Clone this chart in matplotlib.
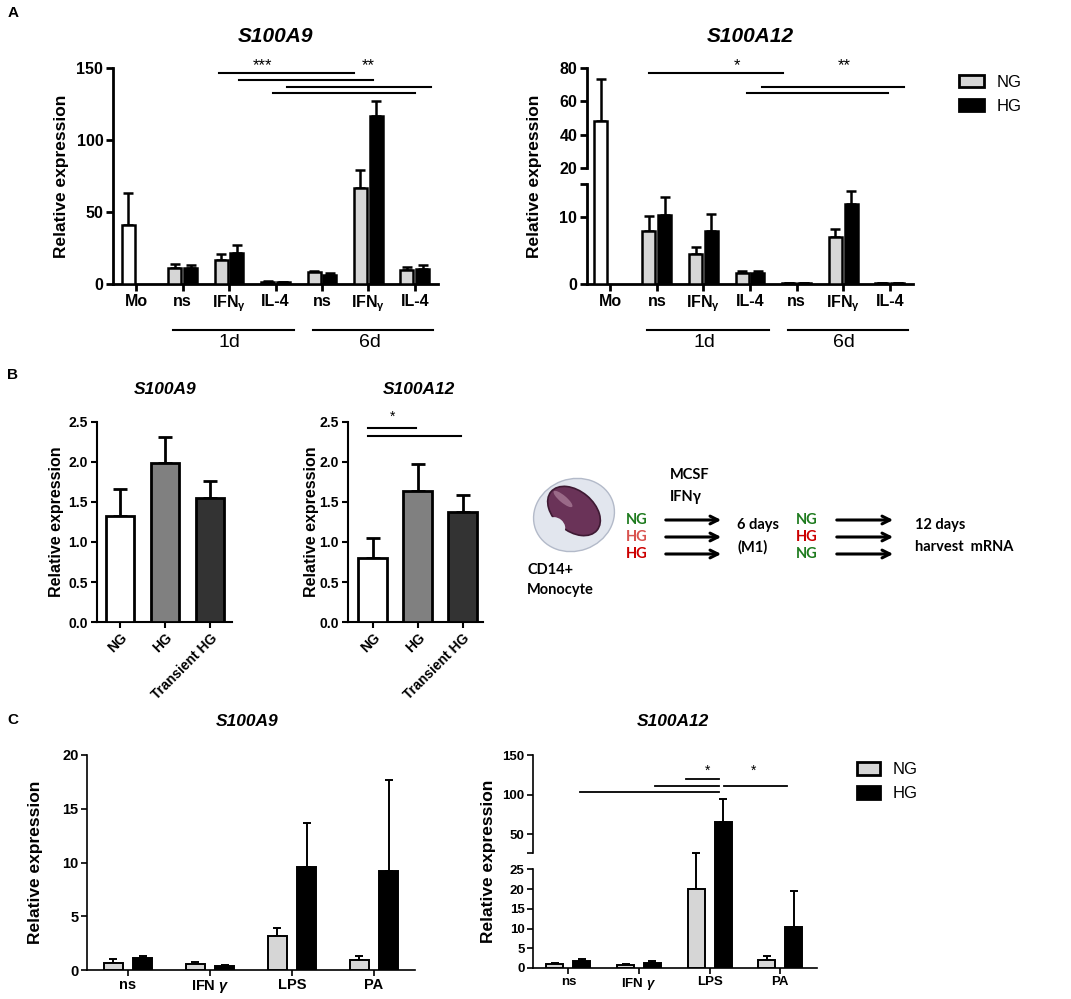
import numpy as np
import matplotlib
matplotlib.use("Agg")
import matplotlib.pyplot as plt
from matplotlib.patches import Patch, Ellipse

plt.rcParams['font.family'] = ['Liberation Sans', 'DejaVu Sans']
plt.rcParams['font.weight'] = 'bold'
plt.rcParams['axes.labelweight'] = 'bold'
plt.rcParams['mathtext.fontset'] = 'custom'
plt.rcParams['mathtext.rm'] = 'Liberation Sans'
plt.rcParams['mathtext.it'] = 'Liberation Sans:italic'
plt.rcParams['mathtext.bf'] = 'Liberation Sans:bold'

W, H = 1071, 999

# ---------------- data ----------------
# panel A (Mo, 1d ns/IFNg/IL-4, 6d ns/IFNg/IL-4)
a_labels = ["Mo", "ns", r"IFN$_{\mathrm{\gamma}}$", "IL-4", "ns", r"IFN$_{\mathrm{\gamma}}$", "IL-4"]
a9_ng = [41, 11, 17, 1.5, 8, 67, 10]
a9_ng_top = [63, 14, 21, 1.8, 8.8, 79, 12]
a9_hg = [11, 21.5, 1.2, 6, 117, 10.5]
a9_hg_top = [13.5, 27, 1.4, 7.5, 127, 13]
a12_ng = [48, 7.9, 4.5, 1.7, 0.15, 7.0, 0.1]
a12_ng_top = [73.5, 10.2, 5.6, 2.0, 0.2, 8.3, 0.12]
a12_hg = [10.3, 7.9, 1.7, 0.12, 12.0, 0.12]
a12_hg_top = [13.0, 10.5, 2.0, 0.15, 13.9, 0.15]
a9_sig = [(1.79, 4.70, 146.7), (2.22, 5.11, 141.7), (3.25, 6.34, 136.6), (2.95, 6.01, 132.8)]
a9_stars = [("***", 2.73, 148.4), ("**", 4.99, 148.4)]
a12_sig = [(0.83, 3.71, 77), (3.26, 6.30, 68.6), (2.93, 5.96, 65)]
a12_stars = [("*", 2.72, 78.6), ("**", 5.02, 78.6)]
days = [("1d", 0.79, 3.40), ("6d", 3.81, 6.40)]

# panel B
b_labels = ["NG", "HG", "Transient HG"]
b_colors = ["white", "#808080", "#333333"]
b9 = [1.33, 1.99, 1.55]
b9_top = [1.66, 2.31, 1.76]
b12 = [0.80, 1.64, 1.38]
b12_top = [1.05, 1.98, 1.59]
b12_sig = [(-0.11, 0.96, 2.43), (-0.11, 1.96, 2.33)]
b12_star = ("*", 0.44, 2.51)

# scheme in panel B
first_cond = ["NG", "HG", "HG"]
first_col = ["#1e7b1e", "#d9534f", "#cc0000"]
second_cond = ["NG", "HG", "NG"]
second_col = ["#1e7b1e", "#cc0000", "#1e7b1e"]

# panel C
c_labels = ["ns", r"IFN $\gamma$", "LPS", "PA"]
c9_ng = [0.68, 0.55, 3.2, 0.93]
c9_ng_top = [1.0, 0.75, 3.88, 1.33]
c9_hg = [1.15, 0.37, 9.6, 9.2]
c9_hg_top = [1.3, 0.5, 13.7, 17.7]
c12_ng = [0.94, 0.69, 19.9, 1.96]
c12_ng_top = [1.15, 1.0, 26.0, 3.05]
c12_hg = [1.78, 1.37, 65.6, 10.4]
c12_hg_top = [2.2, 1.7, 94.3, 19.5]
c12_sig = [(1.67, 2.13, 119.6), (1.23, 2.13, 110.8), (2.20, 3.09, 110.8), (0.16, 2.13, 103.2)]
c12_stars = [("*", 1.97, 124.7), ("*", 2.62, 124.7)]

NG_COL = "#d6d6d6"


def add_ax(x0, y0, x1, y1):
    return fig.add_axes([x0 / W, 1 - y1 / H, (x1 - x0) / W, (y1 - y0) / H])


def ftext(x, y, s, **kw):
    kw.setdefault("ha", "center")
    kw.setdefault("va", "center")
    fig.text(x / W, 1 - y / H, s, **kw)


def broken(lo, hi, gap, k):
    def fwd(v):
        v = np.asarray(v, dtype=float)
        return np.where(v <= lo, v, np.where(v < hi, lo + (v - lo) * gap / (hi - lo),
                                             lo + gap + (v - hi) * k))

    def inv(u):
        u = np.asarray(u, dtype=float)
        return np.where(u <= lo, u, np.where(u < lo + gap, lo + (u - lo) * (hi - lo) / gap,
                                             hi + (u - lo - gap) / k))
    return fwd, inv


def bars(ax, x, vals, tops, color, width, lw, cap):
    vals = np.asarray(vals, float)
    tops = np.asarray(tops, float)
    ax.bar(x, vals, width, color=color, edgecolor="k", linewidth=lw, zorder=3)
    ax.errorbar(x, vals, yerr=[np.zeros_like(vals), tops - vals], fmt="none",
                ecolor="k", elinewidth=lw, capsize=cap, capthick=lw, zorder=2)


def style(ax, lw, tl, fs):
    ax.spines["top"].set_visible(False)
    ax.spines["right"].set_visible(False)
    ax.spines["left"].set_linewidth(lw)
    ax.spines["bottom"].set_linewidth(lw)
    ax.tick_params(width=lw, length=tl, labelsize=fs, direction="out", pad=2)


def break_spine(ax, segs, lw):
    ax.spines["left"].set_visible(False)
    t = ax.get_yaxis_transform()
    for lo, hi in segs:
        ax.plot([0, 0], [lo, hi], transform=t, color="k", lw=lw, clip_on=False,
                solid_capstyle="projecting")


fig = plt.figure(figsize=(W / 100, H / 100), dpi=100)

# ---------------- panel A ----------------
ax = add_ax(113, 68, 438, 284)
xa = np.arange(len(a_labels))
bars(ax, [xa[0] - 0.17], [a9_ng[0]], [a9_ng_top[0]], "white", 0.28, 1.8, 3.5)
bars(ax, xa[1:] - 0.17, a9_ng[1:], a9_ng_top[1:], NG_COL, 0.28, 1.8, 3.5)
bars(ax, xa[1:] + 0.17, a9_hg, a9_hg_top, "black", 0.28, 1.8, 3.5)
ax.set_xlim(-0.5, 6.5)
ax.set_ylim(0, 150)
ax.set_yticks([0, 50, 100, 150])
ax.set_xticks(xa)
ax.set_xticklabels(a_labels)
style(ax, 2, 5, 11.5)
ax.set_ylabel("Relative expression", fontsize=12.5)
ax.yaxis.set_label_coords(-0.135, 0.5)
for x0, x1, y in a9_sig:
    ax.plot([x0, x1], [y, y], color="k", lw=1.5, clip_on=False)
for s, x, y in a9_stars:
    ax.text(x, y, s, ha="center", va="baseline", fontsize=12, fontweight="normal")
for s, x0, x1 in days:
    ax.plot([x0, x1], [-0.213, -0.213], color="k", lw=1.5, clip_on=False,
            transform=ax.get_xaxis_transform())
    ax.text((x0 + x1) / 2 - 0.08, -0.273, s, transform=ax.get_xaxis_transform(),
            ha="center", va="center", fontsize=14, fontweight="normal")

ax = add_ax(587, 68, 913, 284)
ax.set_yscale("function", functions=broken(15, 20, 2.4, 0.25))
bars(ax, [xa[0] - 0.2], [a12_ng[0]], [a12_ng_top[0]], "white", 0.28, 1.8, 3.5)
bars(ax, xa[1:] - 0.17, a12_ng[1:], a12_ng_top[1:], NG_COL, 0.28, 1.8, 3.5)
bars(ax, xa[1:] + 0.17, a12_hg, a12_hg_top, "black", 0.28, 1.8, 3.5)
ax.set_xlim(-0.5, 6.5)
ax.set_ylim(0, 80)
ax.set_yticks([0, 10, 15, 20, 40, 60, 80])
ax.set_yticklabels(["0", "10", "", "20", "40", "60", "80"])
ax.set_xticks(xa)
ax.set_xticklabels(a_labels)
style(ax, 2, 5, 11.5)
break_spine(ax, [(0, 15), (20, 80)], 2)
ax.set_ylabel("Relative expression", fontsize=12.5)
ax.yaxis.set_label_coords(-0.138, 0.5)
for x0, x1, y in a12_sig:
    ax.plot([x0, x1], [y, y], color="k", lw=1.5, clip_on=False)
for s, x, y in a12_stars:
    ax.text(x, y, s, ha="center", va="baseline", fontsize=12, fontweight="normal")
for s, x0, x1 in days:
    ax.plot([x0, x1], [-0.213, -0.213], color="k", lw=1.5, clip_on=False,
            transform=ax.get_xaxis_transform())
    ax.text((x0 + x1) / 2 - 0.08, -0.273, s, transform=ax.get_xaxis_transform(),
            ha="center", va="center", fontsize=14, fontweight="normal")

fig.legend([Patch(facecolor=NG_COL, edgecolor="k", linewidth=2),
            Patch(facecolor="black", edgecolor="k", linewidth=2)], ["NG", "HG"],
           loc="upper left", bbox_to_anchor=(959 / W, 1 - 75 / H), frameon=False,
           prop={"size": 12, "weight": "normal"}, handlelength=1.5, handleheight=0.75,
           handletextpad=0.75, labelspacing=0.55, borderpad=0, borderaxespad=0)

ftext(276, 36, "S100A9", fontsize=15, style="italic")
ftext(750, 36, "S100A12", fontsize=15, style="italic")
ftext(13, 13, "A", fontsize=11)

# ---------------- panel B ----------------
xb = np.arange(len(b_labels))
for (x0, x1, vals, tops, xl, title, tx, lx) in [
        (97, 232, b9, b9_top, (-0.51, 2.49), "S100A9", 165, -0.244),
        (348, 483, b12, b12_top, (-0.55, 2.45), "S100A12", 419, -0.215)]:
    ax = add_ax(x0, 422, x1, 622)
    bars(ax, xb, vals, tops, b_colors, 0.64, 2, 5)
    ax.set_xlim(*xl)
    ax.set_ylim(0, 2.5)
    ax.set_yticks([0, 0.5, 1.0, 1.5, 2.0, 2.5])
    ax.set_yticklabels(["0.0", "0.5", "1.0", "1.5", "2.0", "2.5"])
    ax.set_xticks(xb)
    ax.set_xticklabels(b_labels, rotation=45, ha="right", rotation_mode="anchor")
    style(ax, 1.5, 4.5, 10)
    ax.set_ylabel("Relative expression", fontsize=11.5)
    ax.yaxis.set_label_coords(lx, 0.5)
    ftext(tx, 390, title, fontsize=12.5, style="italic")
    if title == "S100A12":
        for a, b, y in b12_sig:
            ax.plot([a, b], [y, y], color="k", lw=1.5, clip_on=False)
        s, x, y = b12_star
        ax.text(x, y, s, ha="center", va="baseline", fontsize=10, fontweight="normal")
ftext(13, 375, "B", fontsize=11)

# scheme
sx = add_ax(505, 440, 1071, 605)
sx.set_xlim(505, 1071)
sx.set_ylim(605, 440)
sx.axis("off")
sx.add_patch(Ellipse((574, 515), 82, 72, angle=-20, facecolor="#e2e6ee",
                     edgecolor="#b3bac9", linewidth=1))
sx.add_patch(Ellipse((574, 511), 60, 40, angle=40, facecolor="#6a3358",
                     edgecolor="#3e1a33", linewidth=1.2))
sx.add_patch(Ellipse((556, 526), 20, 16, angle=40, facecolor="#e2e6ee",
                     edgecolor="none"))
sx.add_patch(Ellipse((563, 499), 24, 7, angle=40, facecolor="#9a6a88",
                     edgecolor="none"))
sfont = dict(family=["Lato", "DejaVu Sans"], fontweight="bold", fontsize=10.5)
sx.text(527, 570, "CD14+", ha="left", va="center", **sfont)
sx.text(527, 590, "Monocyte", ha="left", va="center", **sfont)
sx.text(670, 475, "MCSF", ha="left", va="center", **sfont)
sx.text(670, 497, "IFNγ", ha="left", va="center", **sfont)
for i, (c, col) in enumerate(zip(first_cond, first_col)):
    yy = 520 + 17 * i
    sx.text(637, yy, c, ha="center", va="center", color=col, **sfont)
    sx.annotate("", xy=(724, yy), xytext=(663, yy),
                arrowprops=dict(arrowstyle="->", lw=2.2, color="k", mutation_scale=14))
for i, (c, col) in enumerate(zip(second_cond, second_col)):
    yy = 520 + 17 * i
    sx.text(807, yy, c, ha="center", va="center", color=col, **sfont)
    sx.annotate("", xy=(896, yy), xytext=(834, yy),
                arrowprops=dict(arrowstyle="->", lw=2.2, color="k", mutation_scale=14))
sx.text(737, 525, "6 days", ha="left", va="center", **sfont)
sx.text(737, 547, "(M1)", ha="left", va="center", **sfont)
sx.text(915, 525, "12 days", ha="left", va="center", **sfont)
sx.text(915, 547, "harvest  mRNA", ha="left", va="center", **sfont)

# ---------------- panel C ----------------
xc = np.arange(len(c_labels))
ax = add_ax(87, 755, 415, 970)
bars(ax, xc - 0.18, c9_ng, c9_ng_top, NG_COL, 0.235, 1.4, 3)
bars(ax, xc + 0.18, c9_hg, c9_hg_top, "black", 0.235, 1.4, 3)
ax.set_xlim(-0.5, 3.5)
ax.set_ylim(0, 20)
ax.set_yticks([0, 5, 10, 15, 20])
ax.set_xticks(xc)
ax.set_xticklabels(c_labels)
style(ax, 1.2, 4, 10.5)
ax.set_ylabel("Relative expression", fontsize=12.5)
ax.yaxis.set_label_coords(-0.134, 0.5)
ftext(247, 722, "S100A9", fontsize=12.5, style="italic")
ftext(13, 720, "C", fontsize=11)

ax = add_ax(533, 755, 817, 968)
ax.set_yscale("function", functions=broken(25, 26, 4.065, 0.2007))
bars(ax, xc - 0.19, c12_ng, c12_ng_top, NG_COL, 0.24, 1.4, 3)
bars(ax, xc + 0.19, c12_hg, c12_hg_top, "black", 0.24, 1.4, 3)
ax.set_xlim(-0.5, 3.52)
ax.set_ylim(0, 150)
ax.set_yticks([0, 5, 10, 15, 20, 25, 26, 50, 100, 150])
ax.set_yticklabels(["0", "5", "10", "15", "20", "25", "", "50", "100", "150"])
ax.set_xticks(xc)
ax.set_xticklabels(c_labels, fontsize=9.5)
style(ax, 1.2, 4, 9.5)
break_spine(ax, [(0, 25), (26, 150)], 1.2)
ax.set_ylabel("Relative expression", fontsize=12.5)
ax.yaxis.set_label_coords(-0.13, 0.5)
for x0, x1, y in c12_sig:
    ax.plot([x0, x1], [y, y], color="k", lw=1.3, clip_on=False)
for s, x, y in c12_stars:
    ax.text(x, y, s, ha="center", va="baseline", fontsize=10, fontweight="normal")
ftext(673, 722, "S100A12", fontsize=12.5, style="italic")

fig.legend([Patch(facecolor=NG_COL, edgecolor="k", linewidth=2),
            Patch(facecolor="black", edgecolor="k", linewidth=2)], ["NG", "HG"],
           loc="upper left", bbox_to_anchor=(857 / W, 1 - 762 / H), frameon=False,
           prop={"size": 12, "weight": "normal"}, handlelength=1.35, handleheight=0.8,
           handletextpad=0.8, labelspacing=0.55, borderpad=0, borderaxespad=0)

fig.savefig("out.png", dpi=100)
